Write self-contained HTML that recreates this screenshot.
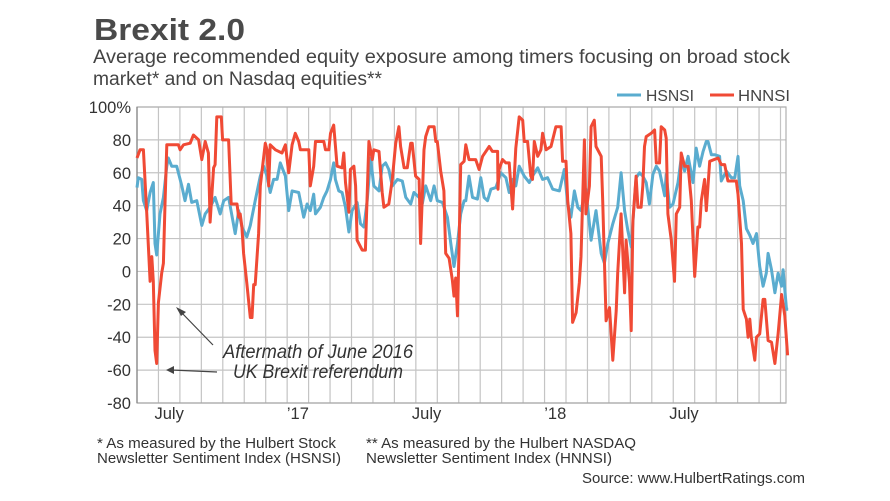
<!DOCTYPE html>
<html><head><meta charset="utf-8">
<style>
html,body{margin:0;padding:0;background:#fff;}
svg{display:block;font-family:"Liberation Sans",sans-serif;}
</style></head>
<body>
<svg id="chart" width="890" height="501" viewBox="0 0 890 501" xmlns="http://www.w3.org/2000/svg">
  <rect x="0" y="0" width="890" height="501" fill="#fff"/>
  <text x="94" y="40" font-size="31" font-weight="bold" fill="#4a4a4a" textLength="151" lengthAdjust="spacingAndGlyphs">Brexit 2.0</text>
  <text x="93" y="63" font-size="19" fill="#444" textLength="697" lengthAdjust="spacingAndGlyphs">Average recommended equity exposure among timers focusing on broad stock</text>
  <text x="93" y="85" font-size="19" fill="#444" textLength="289" lengthAdjust="spacingAndGlyphs">market* and on Nasdaq equities**</text>
  <g>
    <line x1="617" y1="95" x2="641" y2="95" stroke="#5aaccf" stroke-width="3"/>
    <text x="646" y="101" font-size="16" fill="#444" textLength="48" lengthAdjust="spacingAndGlyphs">HSNSI</text>
    <line x1="710" y1="95" x2="734" y2="95" stroke="#f04a35" stroke-width="3"/>
    <text x="738" y="101" font-size="16" fill="#444" textLength="52" lengthAdjust="spacingAndGlyphs">HNNSI</text>
  </g>
  <g id="grid"></g>
  <g id="yaxis"></g>
  <g id="xaxis"></g>
  <g id="series"></g>
  <g>
    <line x1="213" y1="345" x2="180" y2="311" stroke="#444" stroke-width="1.2"/>
    <polygon points="176,307 186,312 181,316" fill="#444"/>
    <line x1="217" y1="372" x2="171" y2="370" stroke="#444" stroke-width="1.2"/>
    <polygon points="166,370 174,366 174,374" fill="#444"/>
    <text x="223" y="358" font-size="19" font-style="italic" fill="#333" textLength="190" lengthAdjust="spacingAndGlyphs">Aftermath of June 2016</text>
    <text x="233" y="378" font-size="19" font-style="italic" fill="#333" textLength="170" lengthAdjust="spacingAndGlyphs">UK Brexit referendum</text>
  </g>
  <g>
    <text x="97" y="448" font-size="14.5" fill="#333" textLength="239" lengthAdjust="spacingAndGlyphs">* As measured by the Hulbert Stock</text>
    <text x="97" y="463" font-size="14.5" fill="#333" textLength="244" lengthAdjust="spacingAndGlyphs">Newsletter Sentiment Index (HSNSI)</text>
    <text x="366" y="448" font-size="14.5" fill="#333" textLength="270" lengthAdjust="spacingAndGlyphs">** As measured by the Hulbert NASDAQ</text>
    <text x="366" y="463" font-size="14.5" fill="#333" textLength="246" lengthAdjust="spacingAndGlyphs">Newsletter Sentiment Index (HNNSI)</text>
    <text x="582" y="483" font-size="14.5" fill="#333" textLength="223" lengthAdjust="spacingAndGlyphs">Source: www.HulbertRatings.com</text>
  </g>
</svg>
<script>
// ---- data (time in months since June 1, 2016; value in % exposure) ----
const yTicks = [100, 80, 60, 40, 20, 0, -20, -40, -60, -80];
const yTickLabels = ["100%", "80", "60", "40", "20", "0", "-20", "-40", "-60", "-80"];
const xTickMonths = [1.5, 7.5, 13.5, 19.5, 25.5];
const xTickLabels = ["July", "\u201917", "July", "\u201918", "July"];
const gridMonths = [1,2,3,4,5,6,7,8,9,10,11,12,13,14,15,16,17,18,19,20,21,22,23,24,25,26,27,28,29,30];

const hsnsiT = [0,.06,.22,.30,.45,.61,.76,.84,.92,1.07,1.23,1.39,1.46,1.62,1.85,2.09,2.24,2.40,2.55,2.79,3.02,3.18,3.41,3.64,3.88,4.04,4.27,4.58,4.74,4.89,5.12,5.28,5.51,5.75,5.90,6.06,6.21,6.37,6.53,6.68,6.92,7.07,7.23,7.54,
 7.77,7.93,8.08,8.24,8.32,8.55,8.71,8.86,9.02,9.17,9.25,9.41,9.56,9.72,9.88,10.03,10.26,10.42,10.58,10.73,10.89,11.04,11.28,11.43,11.59,11.74,11.90,12.14,12.37,12.53,12.76,12.91,13.15,13.30,13.46,13.69,13.85,14.0,14.24,14.47,14.63,14.78,14.94,15.09,15.25,
 15.33,15.48,15.64,15.87,16.03,16.18,16.34,16.50,16.73,16.96,17.20,17.35,17.51,17.66,17.82,18.05,18.29,18.44,18.68,18.91,19.14,19.38,19.69,19.92,20.08,20.23,20.39,20.55,20.70,20.93,21.17,21.40,21.64,21.79,21.95,22.18,22.41,22.57,22.73,22.88,23.04,
 23.19,23.27,23.43,23.58,23.74,23.89,24.05,24.21,24.36,24.60,24.67,24.83,24.99,25.22,25.37,25.53,25.69,25.92,26.07,26.23,26.39,26.54,26.62,26.78,26.93,27.16,27.24,27.48,27.71,27.87,28.02,28.10,28.26,28.41,28.57,28.72,28.88,29.03,29.19,29.34,29.42,29.58,29.74,29.89,30.05,30.12,30.28,30.36];
const hsnsiV = [51,57,56,43,37,48,54,17,10,35,45,64,69,64,64,52,43,53,42,43,28,35,39,45,35,43,45,23,37,27,21,28,43,58,64,58,48,56,56,66,58,37,49,48,
 33,41,37,47,35,39,45,49,56,66,56,49,48,39,24,37,42,29,27,43,69,52,49,64,66,62,52,56,55,45,41,48,45,41,52,43,52,43,42,33,17,3,17,35,43,
 43,58,45,44,57,45,43,50,51,60,57,48,56,52,64,58,54,58,63,56,57,50,49,62,41,33,49,39,37,50,19,37,11,5,17,29,39,60,37,25,15,
 43,57,60,58,54,41,59,64,61,46,59,39,41,54,69,61,70,54,75,64,73,79,79,71,71,70,55,61,57,57,70,52,43,26,22,17,23,3,-9,-1,11,1,-13,-1,-9,1,-23,-23];

const hnnsiT = [0,.14,.30,.45,.61,.69,.76,.84,.92,1.0,1.15,1.23,1.31,1.39,1.93,2.01,2.17,2.48,2.63,2.87,3.02,3.18,3.33,3.41,3.57,3.64,3.72,3.93,3.99,4.27,4.39,4.66,4.74,4.81,4.89,4.97,5.12,5.28,5.36,5.44,5.51,5.67,5.75,5.98,6.06,6.14,6.21,6.45,6.76,6.92,7.07,7.23,7.38,7.54,7.62,
 8.01,8.08,8.24,8.32,8.71,8.79,8.94,9.02,9.17,9.33,9.56,9.64,9.72,9.88,9.95,10.11,10.19,10.26,10.50,10.65,10.81,10.97,11.04,11.28,11.43,11.51,11.74,11.90,12.06,12.21,12.29,12.45,12.60,12.76,12.83,12.99,13.15,13.22,13.38,13.46,13.61,13.85,13.93,14.00,14.16,14.31,14.39,14.55,14.70,14.78,14.86,14.94,15.02,15.09,15.25,
 15.33,15.48,15.79,15.95,16.11,16.42,16.57,16.81,16.83,16.88,17.04,17.20,17.35,17.51,17.66,17.82,17.98,18.05,18.21,18.36,18.44,18.52,18.68,18.83,18.91,19.07,19.30,19.53,19.77,19.84,20.0,20.08,20.23,20.31,20.47,20.62,20.70,20.86,20.93,21.09,21.17,21.32,21.40,21.64,21.71,21.87,22.03,22.18,22.34,22.41,22.57,22.73,22.80,22.96,23.04,
 23.12,23.27,23.35,23.50,23.58,23.66,23.74,23.97,24.13,24.21,24.36,24.44,24.60,24.67,24.75,24.91,25.06,25.14,25.30,25.37,25.53,25.69,25.84,26.0,26.15,26.23,26.31,26.46,26.54,26.70,27.09,27.24,27.40,27.55,27.94,28.02,28.18,28.26,28.41,28.49,28.57,28.64,28.80,28.88,29.03,29.19,29.27,29.42,29.58,29.74,29.89,30.05,30.20,30.33];
const hnnsiV = [69,74,74,36,-6,9,-6,-48,-56,-19,-1,5,43,77,77,74,77,78,83,80,68,79,72,30,63,65,94,94,80,80,41,41,33,35,27,11,-7,-28,-28,-8,-8,23,52,78,74,52,77,74,72,77,60,77,84,79,74,
 74,52,64,79,79,74,74,84,89,64,63,72,54,36,62,64,52,19,13,13,79,68,74,73,48,39,41,56,78,88,76,63,63,78,78,58,56,17,74,82,88,88,79,79,61,49,11,8,-5,-15,-4,-27,19,65,67,
 77,68,68,62,70,76,73,73,50,62,68,66,66,38,75,94,92,79,79,58,56,79,70,74,84,74,76,88,88,67,67,43,23,-31,-25,-7,9,80,35,52,88,92,76,70,43,-30,-22,-54,-24,-1,35,-13,19,-7,-36,
 31,58,39,39,52,76,82,84,86,66,66,88,86,81,35,19,-6,35,39,72,64,64,43,-3,27,27,43,56,37,67,69,65,65,55,55,47,17,-23,-29,-40,-29,-40,-54,-40,-38,-17,-17,-42,-43,-56,-38,-14,-27,-51];

// ---- scales ----
const PL = 137, PR = 786, PT = 107, PB = 403;
const MONTH_PX = 21.45, YMIN = -80, YMAX = 100;
function xScale(t){ return PL + t * MONTH_PX; }
function yScale(v){ return PT + (YMAX - v) * (PB - PT) / (YMAX - YMIN); }

const NS = "http://www.w3.org/2000/svg";
function mk(tag, parent){ const e = document.createElementNS(NS, tag); parent.appendChild(e); return e; }

const grid = document.getElementById("grid");
gridMonths.forEach(m => {
  const l = mk("line", grid);
  
  
  l.setAttribute("x1", xScale(m)); l.setAttribute("x2", xScale(m));
  l.setAttribute("y1", PT); l.setAttribute("y2", PB);
  l.setAttribute("stroke", "#c4c4c4"); l.setAttribute("stroke-width", "1.2");
});
yTicks.forEach(v => {
  const l = mk("line", grid);
  
  
  l.setAttribute("x1", PL); l.setAttribute("x2", PR);
  l.setAttribute("y1", yScale(v)); l.setAttribute("y2", yScale(v));
  l.setAttribute("stroke", v === YMIN ? "#888" : "#c4c4c4"); l.setAttribute("stroke-width", "1.2");
});
const frame = mk("rect", grid);


frame.setAttribute("x", PL); frame.setAttribute("y", PT);
frame.setAttribute("width", PR - PL); frame.setAttribute("height", PB - PT);
frame.setAttribute("fill", "none"); frame.setAttribute("stroke", "#b0b0b0"); frame.setAttribute("stroke-width", "1.2");
const axl = mk("line", grid);


axl.setAttribute("x1", PL); axl.setAttribute("x2", PL); axl.setAttribute("y1", PT); axl.setAttribute("y2", PB);
axl.setAttribute("stroke", "#888"); axl.setAttribute("stroke-width", "1.3");

const yaxis = document.getElementById("yaxis");
yTicks.forEach((v, i) => {
  const t = mk("text", yaxis);
  
  
  t.setAttribute("x", 131); t.setAttribute("y", yScale(v) + 6);
  t.setAttribute("text-anchor", "end"); t.setAttribute("font-size", "16.5"); t.setAttribute("fill", "#333");
  t.textContent = yTickLabels[i];
});
const xaxis = document.getElementById("xaxis");
xTickMonths.forEach((m, i) => {
  const t = mk("text", xaxis);
  
  
  t.setAttribute("x", xScale(m)); t.setAttribute("y", 419);
  t.setAttribute("text-anchor", "middle"); t.setAttribute("font-size", "16.5"); t.setAttribute("fill", "#333");
  t.textContent = xTickLabels[i];
});

const series = document.getElementById("series");
function drawLine(ts, vs, color, name){
  const p = mk("path", series);
  
  
  let d = "";
  for (let i = 0; i < ts.length && i < vs.length; i++){
    d += (i ? "L" : "M") + xScale(ts[i]).toFixed(1) + "," + yScale(vs[i]).toFixed(1);
  }
  p.setAttribute("d", d);
  p.setAttribute("fill", "none"); p.setAttribute("stroke", color);
  p.setAttribute("stroke-width", "3"); p.setAttribute("stroke-linejoin", "round");
}
drawLine(hsnsiT, hsnsiV, "#5aaccf", "hsnsi-line");
drawLine(hnnsiT, hnnsiV, "#f04a35", "hnnsi-line");
</script>
</body></html>
